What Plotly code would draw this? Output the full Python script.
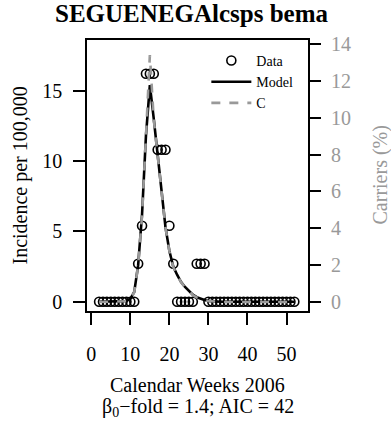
import plotly.graph_objects as go

weeks = list(range(2, 53))
incidence = [0]*10 + [2.7, 5.4, 16.2, 16.2, 16.2, 10.8, 10.8, 10.8, 5.4, 2.7] + [0]*5 + [2.7, 2.7, 2.7] + [0]*23
model = [0]*7 + [0.05, 0.2, 0.7, 2.6, 6.2, 11.8, 15.4, 13.0, 10.5, 7.8, 5.3, 3.6, 2.5, 1.9, 1.4,
                 1.05, 0.75, 0.5, 0.32, 0.2, 0.12, 0.06, 0.03] + [0]*21
carriers = [0]*7 + [0.04, 0.15, 0.53, 2.0, 4.7, 9.0, 13.4, 9.9, 8.0, 5.95, 4.05, 2.75, 1.9, 1.45, 1.07,
                    0.8, 0.57, 0.38, 0.24, 0.15, 0.09, 0.05, 0.02] + [0]*21
x_ticks = [0, 10, 20, 30, 40, 50]
y_ticks = [0, 5, 10, 15]
y2_ticks = [0, 2, 4, 6, 8, 10, 12, 14]

FONT = "Liberation Serif"
GREY = "#999999"

fig = go.Figure()
fig.add_trace(go.Scatter(x=weeks, y=incidence, mode="markers", name="Data",
                         marker=dict(symbol="circle-open", size=9, color="black",
                                     line=dict(width=1.6, color="black"))))
fig.add_trace(go.Scatter(x=weeks, y=model, mode="lines", name="Model",
                         line=dict(color="black", width=2.6)))
fig.add_trace(go.Scatter(x=weeks, y=carriers, mode="lines", name="C", yaxis="y2",
                         line=dict(color=GREY, width=2.6, dash="dash")))

fig.update_layout(
    width=391, height=427,
    margin=dict(l=87, r=83, t=40, b=116, autoexpand=False),
    paper_bgcolor="white", plot_bgcolor="white",
    font=dict(family=FONT, size=20, color="black"),
    showlegend=True,
    legend=dict(x=0.54, y=0.982, xanchor="left", yanchor="top",
                bgcolor="rgba(0,0,0,0)", font=dict(family=FONT, size=14),
                tracegroupgap=0, itemwidth=40),
    xaxis=dict(range=[-1.1, 55.5], tickvals=x_ticks, ticks="outside", ticklen=12,
               tickwidth=1.5, tickcolor="black", showgrid=False, zeroline=False,
               showline=True, linecolor="black", linewidth=1.5, mirror=True,
               tickfont=dict(family=FONT, size=20), ticklabelstandoff=12, automargin=False),
    yaxis=dict(range=[-0.66, 18.6], tickvals=y_ticks, ticks="outside", ticklen=12,
               tickwidth=1.5, tickcolor="black", showgrid=False, zeroline=False,
               showline=True, linecolor="black", linewidth=1.5, mirror=True,
               tickfont=dict(family=FONT, size=20), ticklabelstandoff=7, automargin=False),
    yaxis2=dict(range=[-0.49, 14.22], tickvals=y2_ticks, overlaying="y", side="right",
                ticks="outside", ticklen=12, tickwidth=1.5, tickcolor="black",
                showgrid=False, zeroline=False, showline=False,
                tickfont=dict(family=FONT, size=20, color=GREY), ticklabelstandoff=6,
                automargin=False),
    annotations=[
        dict(text="<b>SEGUENEGAlcsps bema</b>", xref="paper", yref="paper", x=0.5, y=1,
             xanchor="center", yanchor="top", xshift=-6, yshift=41, showarrow=False,
             borderpad=0, font=dict(family=FONT, size=25, color="black")),
        dict(text="Incidence per 100,000", xref="paper", yref="paper", x=0, y=0.5,
             xanchor="center", yanchor="middle", xshift=-67, textangle=-90, showarrow=False,
             font=dict(family=FONT, size=20, color="black")),
        dict(text="Carriers (%)", xref="paper", yref="paper", x=1, y=0.5,
             xanchor="center", yanchor="middle", xshift=72, textangle=-90, showarrow=False,
             font=dict(family=FONT, size=20, color=GREY)),
        dict(text="Calendar Weeks 2006", xref="paper", yref="paper", x=0.5, y=0,
             xanchor="center", yanchor="middle", yshift=-74, showarrow=False,
             font=dict(family=FONT, size=20, color="black")),
        dict(text="β<sub>0</sub>−fold = 1.4; AIC = 42", xref="paper", yref="paper", x=0.5, y=0,
             xanchor="center", yanchor="middle", yshift=-96, showarrow=False,
             font=dict(family=FONT, size=20, color="black")),
    ],
)

fig.write_html("out.html", config={"displayModeBar": False},
               post_script="document.body.style.margin='0';document.body.style.padding='0';")
